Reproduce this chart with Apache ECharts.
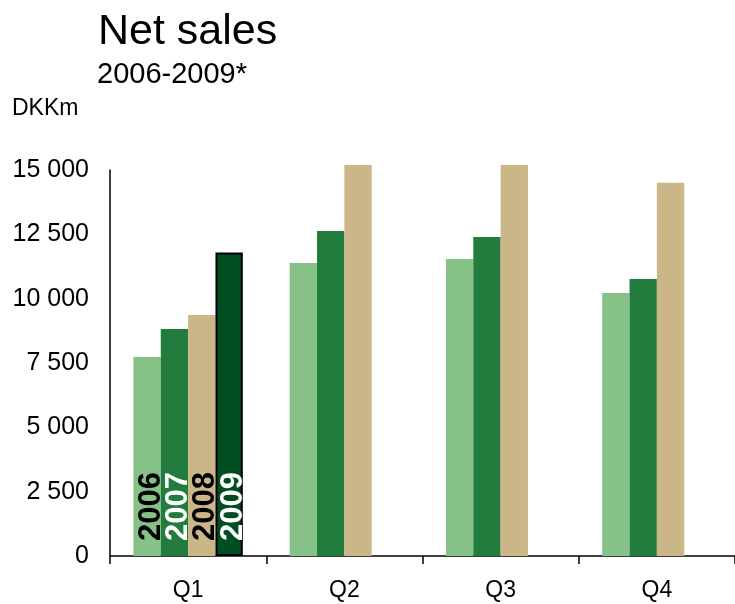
<!DOCTYPE html>
<html>
<head>
<meta charset="utf-8">
<script src="https://cdn.jsdelivr.net/npm/echarts@6/dist/echarts.min.js"></script>
<style>html,body{margin:0;padding:0;background:#fff}#c{width:735px;height:604px}</style>
</head>
<body>
<div id="c"></div>
<script>
const categories = ['Q1', 'Q2', 'Q3', 'Q4'];
const seriesNames = ['2006', '2007', '2008', '2009'];
const values2006 = [7730, 11390, 11540, 10220];
const values2007 = [8820, 12630, 12400, 10760];
const values2008 = [9370, 15190, 15190, 14500];
const values2009 = [11790, null, null, null];
const yTicks = [0, 2500, 5000, 7500, 10000, 12500, 15000];

const colors = ['#86C287', '#217C3E', '#CBB687', '#004D22'];
const labelColors = ['#000', '#fff', '#000', '#fff'];
const allValues = [values2006, values2007, values2008, values2009];

const font = 'Liberation Sans, Arial, sans-serif';
const chart = echarts.init(document.getElementById('c'), null, {renderer: 'canvas'});

const series = allValues.map((vals, s) => ({
  name: seriesNames[s],
  type: 'bar',
  clip: false,
  barGap: '0%',
  barCategoryGap: '30%',
  itemStyle: s === 3 ? {color: colors[s], borderColor: '#000', borderWidth: 2} : {color: colors[s]},
  label: {
    show: false,
    position: 'insideBottom',
    rotate: 90,
    align: 'left',
    verticalAlign: 'middle',
    distance: 15,
    offset: [0, 4],
    formatter: seriesNames[s],
    color: labelColors[s],
    fontFamily: font,
    fontWeight: 'bold',
    fontSize: 31
  },
  data: vals.map((v, i) => i === 0 ? {value: v, label: {show: true}} : v)
}));

chart.setOption({
  animation: false,
  title: [
    {text: 'Net sales', left: 93, top: 6, textStyle: {fontFamily: font, fontSize: 43, fontWeight: 'normal', color: '#000'}},
    {text: '2006-2009*', left: 92, top: 55, textStyle: {fontFamily: font, fontSize: 29, fontWeight: 'normal', color: '#000'}},
    {text: 'DKKm', left: 7, top: 92, textStyle: {fontFamily: font, fontSize: 23, fontWeight: 'normal', color: '#000'}}
  ],
  grid: {left: 110, right: -4, top: 170, bottom: 48, containLabel: false},
  xAxis: {
    type: 'category',
    data: categories,
    axisLine: {lineStyle: {color: '#000', width: 1.5}},
    axisTick: {show: true, length: 8, lineStyle: {color: '#000', width: 1.5}},
    axisLabel: {color: '#000', fontFamily: font, fontSize: 23, margin: 23}
  },
  yAxis: {
    type: 'value',
    min: 0,
    max: 15000,
    interval: 2500,
    axisLine: {show: true, lineStyle: {color: '#000', width: 1.5}},
    axisTick: {show: false},
    splitLine: {show: false},
    axisLabel: {
      color: '#000', fontFamily: font, fontSize: 25, margin: 21,
      formatter: v => yTicks.includes(v) ? String(v).replace(/\B(?=(\d{3})+(?!\d))/g, ' ') : ''
    }
  },
  series: series
});
</script>
</body>
</html>
